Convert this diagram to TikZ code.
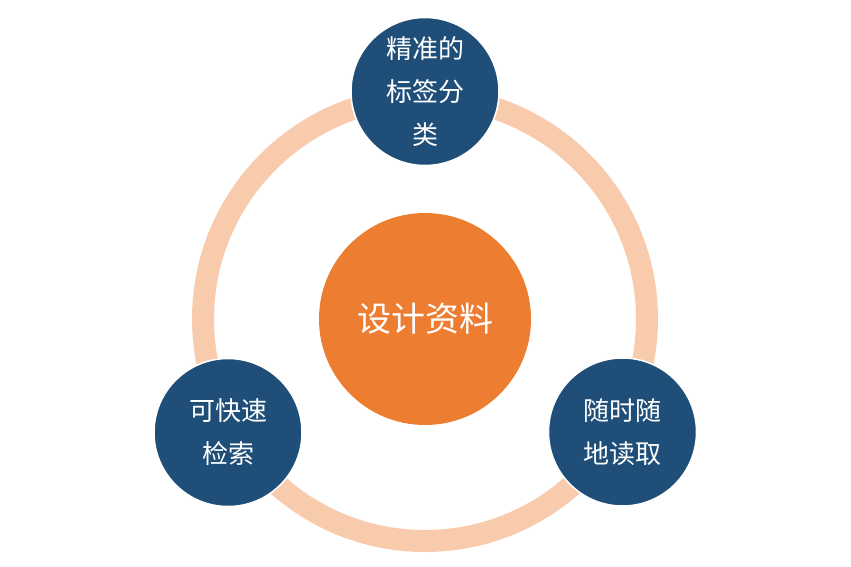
\documentclass[tikz,border=0pt]{standalone}
\usepackage{fontspec}
\newfontfamily\cjk{Noto Sans CJK SC}
\definecolor{ringc}{HTML}{F8CBAD}
\definecolor{bluec}{HTML}{1F4E79}
\definecolor{orangec}{HTML}{ED7D31}
\begin{document}
\begin{tikzpicture}[x=1pt,y=-1pt,
  bluenode/.style={circle,fill=bluec,draw=white,line width=1.5pt,minimum size=148pt,inner sep=0pt,
    text=white,align=center,font=\cjk\fontsize{26}{43}\selectfont},
  centernode/.style={circle,fill=orangec,minimum size=212pt,inner sep=0pt,
    text=white,font=\cjk\fontsize{34}{40}\selectfont}]
\useasboundingbox (0,0) rectangle (851,567);
\coordinate (o) at (425,319);
\draw[ringc,line width=22pt] (o) circle[radius=222];
\node[centernode] (c) at (o) {设计资料};
\node[bluenode] (t) at (425,91.5) {精准的\\标签分\\类};
\node[bluenode] (l) at (228,432.5) {可快速\\检索};
\node[bluenode] (r) at (622.5,432) {随时随\\地读取};
\end{tikzpicture}
\end{document}
